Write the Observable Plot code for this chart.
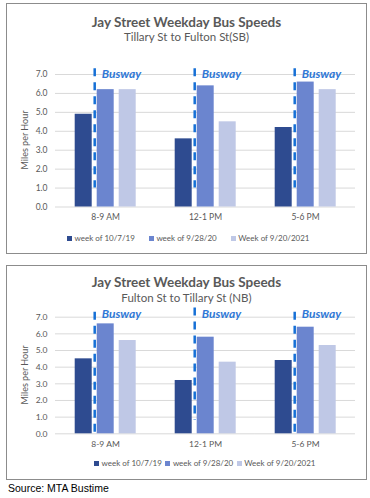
<!DOCTYPE html>
<html><head><meta charset="utf-8">
<script src="https://cdn.jsdelivr.net/npm/d3@7"></script>
<script src="https://cdn.jsdelivr.net/npm/@observablehq/plot@0.6"></script>
<style>
html,body{margin:0;padding:0;background:#fff;}
#page{position:relative;width:370px;height:498px;overflow:hidden;font-family:Lato,"Open Sans",sans-serif;color:#595959;}
.box{position:absolute;box-sizing:border-box;border:1.5px solid #8c8c8c;}
.t{position:absolute;text-align:center;white-space:nowrap;}
.title{font-weight:bold;font-size:13.5px;line-height:16px;}
.sub{font-size:11.5px;line-height:14px;}
.ytitle{position:absolute;font-size:9px;line-height:12px;white-space:nowrap;transform:translate(-50%,-50%) rotate(-90deg);}
.legend{position:absolute;display:flex;font-size:8px;line-height:12px;white-space:nowrap;align-items:center;}
.legend .sw{display:inline-block;width:5px;height:5px;margin-right:2.5px;}
.chart{position:absolute;left:0;}
.src{position:absolute;left:8px;font-family:"Liberation Sans",Arial,sans-serif;font-size:10.5px;color:#000;line-height:12px;}
</style></head>
<body><div id="page"></div>
<script>
const categories = ["8-9 AM", "12-1 PM", "5-6 PM"];
const series = ["week of 10/7/19", "week of 9/28/20", "Week of 9/20/2021"];
const colors = ["#2e4b90", "#6b85cf", "#bfc8e6"];
const yTicks = [0, 1, 2, 3, 4, 5, 6, 7];
const buswayLabel = "Busway";

// Southbound (Tillary St to Fulton St)
const sb2019 = [4.9, 3.6, 4.2];
const sb2020 = [6.2, 6.4, 6.6];
const sb2021 = [6.2, 4.5, 6.2];
const sbBuswayTop = [7.3, 7.3, 7.3];
const sbBuswayBottom = [1.0, 1.0, 1.0];
const sbBuswayText = [7.0, 7.0, 7.0];

// Northbound (Fulton St to Tillary St)
const nb2019 = [4.5, 3.2, 4.4];
const nb2020 = [6.6, 5.8, 6.4];
const nb2021 = [5.6, 4.3, 5.3];
const nbBuswayTop = [7.3, 7.55, 7.3];
const nbBuswayBottom = [0.1, 0.8, 0.1];
const nbBuswayText = [7.2, 7.2, 7.2];

const page = document.getElementById("page");

function el(tag, cls, style, text) {
  const e = document.createElement(tag);
  if (cls) e.className = cls;
  Object.assign(e.style, style);
  if (text != null) e.textContent = text;
  page.appendChild(e);
  return e;
}

function makeChart(o) {
  const values = [o.v2019, o.v2020, o.v2021];
  const rows = [];
  categories.forEach((c, i) => series.forEach((s, j) => rows.push({category: c, series: s, value: values[j][i]})));
  const busway = categories.map((c, i) => ({category: c, series: series[0], y1: o.busTop[i], y2: o.busBottom[i], ty: o.busText[i], label: buswayLabel}));
  return Plot.plot({
    width: 370,
    height: o.height,
    marginLeft: 53.3,
    marginRight: 14,
    marginTop: o.mt,
    marginBottom: o.mb,
    style: {fontFamily: "Lato, sans-serif", fontSize: "8.5px", color: "#595959", background: "transparent", overflow: "visible"},
    fx: {domain: categories, padding: 0, label: null, axis: "bottom", tickSize: 0, tickPadding: 7},
    x: {domain: series, paddingInner: 0.22, paddingOuter: 0.87, axis: null},
    y: {domain: [0, 7], ticks: yTicks, tickFormat: d => d.toFixed(1), tickSize: 0, tickPadding: 8, label: null},
    color: {domain: series, range: colors},
    marks: [
      Plot.gridY(yTicks, {stroke: "#d9d9d9", strokeOpacity: 1}),
      Plot.barY(rows, {fx: "category", x: "series", y: "value", fill: "series"}),
      Plot.ruleX(busway, {fx: "category", x: "series", y1: "y1", y2: "y2", dx: 11, stroke: "#1670d6", strokeWidth: 2.5, strokeDasharray: "8,6"}),
      Plot.text(busway, {fx: "category", x: "series", y: "ty", text: "label", dx: 18, textAnchor: "start", fill: "#2f78d6", fontWeight: "bold", fontStyle: "italic", fontSize: 12})
    ]
  });
}

function legend(top, left, gap) {
  const lg = el("div", "legend", {top: top + "px", left: left + "px", gap: gap + "px"});
  series.forEach((s, i) => {
    const item = document.createElement("span");
    const sw = document.createElement("span");
    sw.className = "sw";
    sw.style.background = colors[i];
    item.appendChild(sw);
    item.appendChild(document.createTextNode(s));
    lg.appendChild(item);
  });
}

// Chart 1 (SB)
el("div", "box", {left: "6px", top: "3px", width: "361px", height: "251px"});
el("div", "t title", {left: "6px", width: "361px", top: "14px"}, "Jay Street Weekday Bus Speeds");
el("div", "t sub", {left: "6px", width: "361px", top: "30px"}, "Tillary St to Fulton St(SB)");
const c1 = makeChart({v2019: sb2019, v2020: sb2020, v2021: sb2021, busTop: sbBuswayTop, busBottom: sbBuswayBottom, busText: sbBuswayText, height: 178.5, mt: 24, mb: 22});
c1.classList.add("chart");
c1.style.position = "absolute";
c1.style.top = "50px";
page.appendChild(c1);
el("div", "ytitle", {left: "25px", top: "140px"}, "Miles per Hour");
legend(232, 67, 14);

// Chart 2 (NB)
el("div", "box", {left: "6px", top: "265px", width: "361px", height: "215px"});
el("div", "t title", {left: "6px", width: "361px", top: "273.7px"}, "Jay Street Weekday Bus Speeds");
el("div", "t sub", {left: "6px", width: "361px", top: "291.3px"}, "Fulton St to Tillary St (NB)");
const c2 = makeChart({v2019: nb2019, v2020: nb2020, v2021: nb2021, busTop: nbBuswayTop, busBottom: nbBuswayBottom, busText: nbBuswayText, height: 150.3, mt: 11.7, mb: 22});
c2.classList.add("chart");
c2.style.position = "absolute";
c2.style.top = "305px";
page.appendChild(c2);
el("div", "ytitle", {left: "25px", top: "375px"}, "Miles per Hour");
legend(456.7, 94, 3.5);

el("div", "src", {top: "482px"}, "Source: MTA Bustime");
</script>
</body></html>
